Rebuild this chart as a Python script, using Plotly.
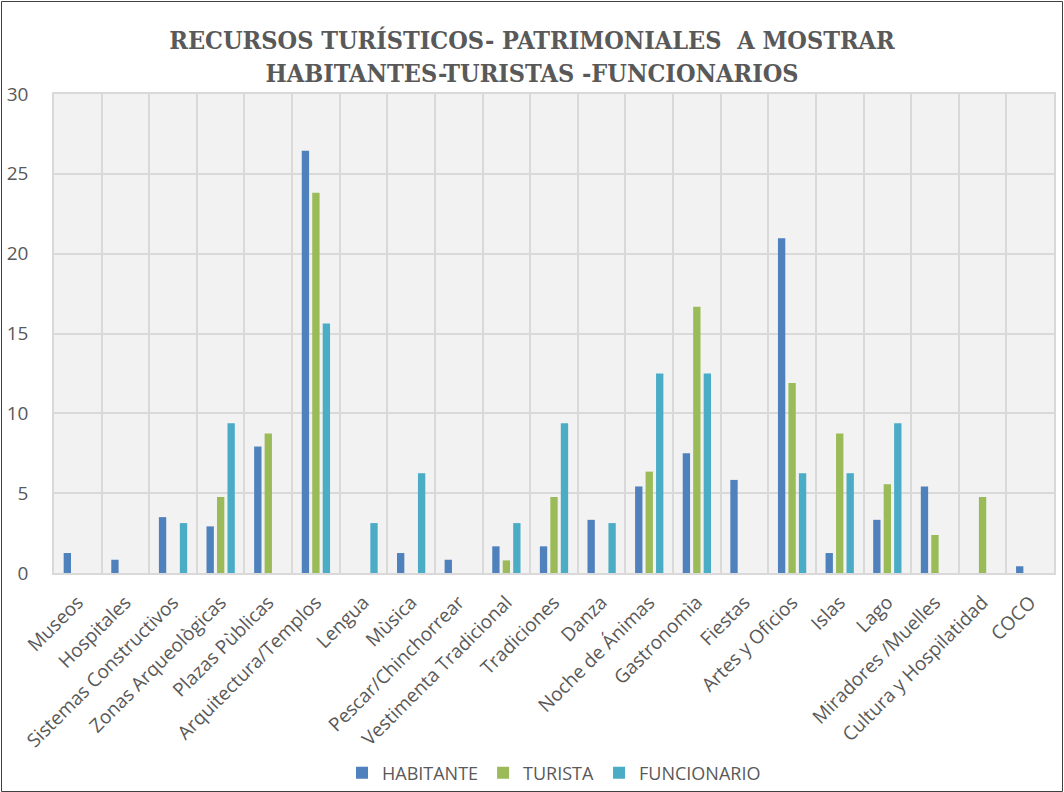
import plotly.graph_objects as go

categories = ["Museos", "Hospitales", "Sistemas Constructivos", "Zonas Arqueològicas",
              "Plazas Pùblicas", "Arquitectura/Templos", "Lengua", "Mùsica",
              "Pescar/Chinchorrear", "Vestimenta Tradicional", "Tradiciones", "Danza",
              "Noche de Ánimas", "Gastronomìa", "Fiestas", "Artes y Oficios", "Islas",
              "Lago", "Miradores /Muelles", "Cultura y Hospilatidad", "COCO"]

habitante = [1.25, 0.83, 3.5, 2.92, 7.92, 26.45, 0, 1.25, 0.83, 1.67, 1.67, 3.33,
             5.42, 7.5, 5.83, 20.97, 1.25, 3.33, 5.42, 0, 0.42]
turista = [0, 0, 0, 4.76, 8.73, 23.81, 0, 0, 0, 0.79, 4.76, 0,
           6.35, 16.67, 0, 11.9, 8.73, 5.56, 2.38, 4.76, 0]
funcionario = [0, 0, 3.125, 9.375, 0, 15.625, 3.125, 6.25, 0, 3.125, 9.375, 3.125,
               12.5, 12.5, 0, 6.25, 6.25, 9.375, 0, 0, 0]

series = [("HABITANTE", habitante, "#4F81BD"),
          ("TURISTA", turista, "#9BBB59"),
          ("FUNCIONARIO", funcionario, "#4BACC6")]

fig = go.Figure()
for name, vals, color in series:
    fig.add_trace(go.Bar(x=categories, y=vals, name=name,
                         marker=dict(color=color, line=dict(width=0))))

W, H = 1064, 792
ml, mr, mt, mb = 54, 10, 94, 219
pw, ph = W - ml - mr, H - mt - mb

def px(x):
    return (x - ml) / pw

def py(y):
    return (H - mb - y) / ph

fig.update_layout(
    width=W, height=H,
    margin=dict(l=ml, r=mr, t=mt, b=mb, autoexpand=False),
    paper_bgcolor="white",
    plot_bgcolor="#f2f2f2",
    barmode="group", bargap=0.34, bargroupgap=0.3,
    title=dict(text="RECURSOS TURÍSTICOS- PATRIMONIALES  A MOSTRAR<br>HABITANTES-TURISTAS -FUNCIONARIOS",
               x=0.5, xanchor="center", y=1 - 49 / H, yanchor="middle",
               font=dict(family="DejaVu Serif Condensed", size=25, color="#595959", weight="bold")),
    font=dict(family="Open Sans", color="#595959"),
    legend=dict(orientation="h", x=0.5, xanchor="center", y=py(773), yanchor="middle",
                font=dict(family="Open Sans", size=18, color="#595959"),
                bgcolor="rgba(0,0,0,0)", itemwidth=30, tracegroupgap=0),
    showlegend=True,
    shapes=[dict(type="rect", xref="paper", yref="paper",
                 x0=px(1.5), x1=px(1062.5), y0=py(791.5), y1=py(1.5),
                 line=dict(color="#404040", width=1), layer="below")],
)

fig.update_xaxes(type="category", tickson="boundaries", showgrid=True,
                 gridcolor="#d9d9d9", gridwidth=1.5, tickangle=-45,
                 tickfont=dict(family="Open Sans", size=19, color="#595959"),
                 ticks="", ticklabelstandoff=9, showline=True, linecolor="#d9d9d9",
                 linewidth=1.5, mirror=True,
                 range=[-0.5, len(categories) - 0.5])
fig.update_yaxes(range=[0, 30], dtick=5, showgrid=True, gridcolor="#d9d9d9", gridwidth=1.5,
                 zeroline=False, tickfont=dict(family="Open Sans", size=19, color="#595959"),
                 ticks="", ticklabelstandoff=20, showline=True, linecolor="#d9d9d9",
                 linewidth=1.5, mirror=True)

fig.write_html("out.html", config={"displayModeBar": False},
               post_script="document.body.style.margin='0';document.body.style.overflow='hidden';")
